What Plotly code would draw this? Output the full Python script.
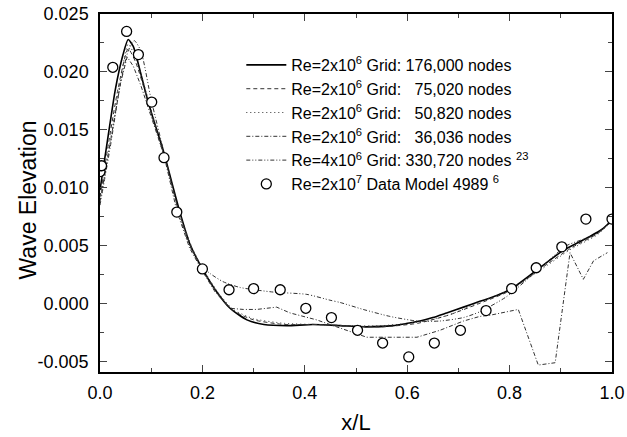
import plotly.graph_objects as go

# measured data (Re=2x10^7, model 4989)
exp_x = [0.0, 0.003, 0.025, 0.052, 0.075, 0.101, 0.125, 0.15, 0.2, 0.252, 0.30, 0.352, 0.402,
         0.452, 0.503, 0.552, 0.603, 0.653, 0.704, 0.754, 0.804, 0.852, 0.902, 0.949, 1.0]
exp_y = [0.0114, 0.0119, 0.0204, 0.0235, 0.0215, 0.0174, 0.0126, 0.0079, 0.0030, 0.0012, 0.0013,
         0.0012, -0.0004, -0.0012, -0.0023, -0.0034, -0.0046, -0.0034, -0.0023, -0.0006, 0.0013,
         0.0031, 0.0049, 0.0073, 0.0073]

# grid 176,000 nodes
g176_x = [0, 0.016, 0.03, 0.045, 0.055, 0.065, 0.08, 0.091, 0.105, 0.123, 0.14, 0.156, 0.176, 0.2,
          0.225, 0.254, 0.287, 0.32, 0.365, 0.416, 0.469, 0.514, 0.572, 0.6, 0.625, 0.65, 0.677,
          0.71, 0.742, 0.775, 0.804, 0.853, 0.905, 0.957, 0.98, 1.0]
g176_y = [0.0098, 0.0145, 0.0185, 0.0215, 0.0228, 0.0222, 0.0198, 0.0179, 0.0158, 0.0133, 0.0105,
          0.0079, 0.0051, 0.0030, 0.0012, -0.0004, -0.0014, -0.0018, -0.0019, -0.0018, -0.0019,
          -0.0020, -0.0019, -0.0017, -0.0015, -0.0012, -0.0008, -0.0003, 0.0002, 0.0007, 0.0013,
          0.0029, 0.0046, 0.0058, 0.0064, 0.0072]

# grid 75,020 nodes
g75_x = [0, 0.018, 0.035, 0.055, 0.07, 0.09, 0.11, 0.13, 0.155, 0.18, 0.2, 0.23, 0.26, 0.3,
         0.36, 0.42, 0.48, 0.55, 0.62, 0.68, 0.74, 0.8, 0.86, 0.92, 0.97, 1.0]
g75_y = [0.0092, 0.0142, 0.0185, 0.0220, 0.0208, 0.0180, 0.0150, 0.0120, 0.0078, 0.0047, 0.0030,
         0.0009, -0.0006, -0.0014, -0.0018, -0.0018, -0.0019, -0.0020, -0.0017, -0.0010, 0.0000,
         0.0011, 0.0030, 0.0048, 0.0060, 0.0071]

# grid 50,820 nodes
g50_x = [0, 0.02, 0.038, 0.055, 0.07, 0.09, 0.11, 0.13, 0.155, 0.18, 0.2, 0.23, 0.26, 0.3,
         0.36, 0.42, 0.48, 0.55, 0.62, 0.68, 0.74, 0.8, 0.86, 0.92, 0.97, 1.0]
g50_y = [0.0090, 0.0140, 0.0188, 0.0224, 0.0212, 0.0183, 0.0152, 0.0121, 0.0079, 0.0048, 0.0031,
         0.0010, -0.0005, -0.0013, -0.0017, -0.0018, -0.0019, -0.0019, -0.0016, -0.0010, 0.0001,
         0.0012, 0.0029, 0.0047, 0.0059, 0.0071]

# grid 36,036 nodes
g36_x = [0, 0.02, 0.04, 0.053, 0.065, 0.08, 0.1, 0.125, 0.15, 0.175, 0.2, 0.225, 0.254, 0.28,
         0.306, 0.345, 0.371, 0.423, 0.462, 0.521, 0.619, 0.664, 0.71, 0.742, 0.762, 0.817,
         0.856, 0.889, 0.918, 0.944, 0.964, 0.991]
g36_y = [0.0088, 0.0140, 0.0190, 0.0213, 0.0205, 0.0188, 0.0162, 0.0128, 0.0080, 0.0048, 0.0028,
         0.0010, -0.0004, -0.0005, -0.0005, -0.0003, -0.0008, -0.0014, -0.0020, -0.0029, -0.0029,
         -0.0023, -0.0015, -0.0011, -0.0010, -0.0005, -0.0053, -0.0051, 0.0044, 0.0021, 0.0037,
         0.0044]

# Re=4x10^6 grid 330,720 nodes
g330_x = [0, 0.02, 0.04, 0.055, 0.067, 0.08, 0.1, 0.127, 0.153, 0.175, 0.2, 0.215, 0.24, 0.273,
          0.338, 0.404, 0.449, 0.469, 0.514, 0.566, 0.619, 0.664, 0.71, 0.742, 0.794, 0.853,
          0.911, 0.97, 1.0]
g330_y = [0.0085, 0.0135, 0.0190, 0.0218, 0.0227, 0.0218, 0.0176, 0.0127, 0.0080, 0.0050, 0.0032,
          0.0026, 0.0019, 0.0014, 0.0010, 0.0008, 0.0003, 0.0001, -0.0005, -0.0011, -0.0015,
          -0.0015, -0.0012, -0.0007, 0.0006, 0.0028, 0.0050, 0.0060, 0.0073]

x_ticks = [0.0, 0.2, 0.4, 0.6, 0.8, 1.0]
x_ticktext = ["0.0", "0.2", "0.4", "0.6", "0.8", "1.0"]
y_ticks = [-0.005, 0.0, 0.005, 0.010, 0.015, 0.020, 0.025]
y_ticktext = ["-0.005", "0.000", "0.005", "0.010", "0.015", "0.020", "0.025"]

sp = "\u00a0"
names = [
    "Re=2x10<sup>6</sup> Grid: 176,000 nodes",
    "Re=2x10<sup>6</sup> Grid:" + sp * 3 + "75,020 nodes",
    "Re=2x10<sup>6</sup> Grid:" + sp * 3 + "50,820 nodes",
    "Re=2x10<sup>6</sup> Grid:" + sp * 3 + "36,036 nodes",
    "Re=4x10<sup>6</sup> Grid: 330,720 nodes <sup>23</sup>",
    "Re=2x10<sup>7</sup> Data Model 4989 <sup>6</sup>",
]

fig = go.Figure()
fig.add_trace(go.Scatter(x=g176_x, y=g176_y, mode="lines", name=names[0],
                         line=dict(color="black", width=1.6, shape="spline", smoothing=0.6)))
fig.add_trace(go.Scatter(x=g75_x, y=g75_y, mode="lines", name=names[1],
                         line=dict(color="#333", width=1, dash="4px,3px", shape="spline", smoothing=0.6)))
fig.add_trace(go.Scatter(x=g50_x, y=g50_y, mode="lines", name=names[2],
                         line=dict(color="#333", width=1, dash="1px,3px", shape="spline", smoothing=0.6)))
fig.add_trace(go.Scatter(x=g36_x, y=g36_y, mode="lines", name=names[3],
                         line=dict(color="#333", width=1, dash="4px,2px,1px,2px")))
fig.add_trace(go.Scatter(x=g330_x, y=g330_y, mode="lines", name=names[4],
                         line=dict(color="#333", width=1, dash="4px,2px,1px,2px,1px,2px",
                                   shape="spline", smoothing=0.6)))
fig.add_trace(go.Scatter(x=exp_x, y=exp_y, mode="markers", name=names[5],
                         marker=dict(symbol="circle", size=10, color="white",
                                     line=dict(color="black", width=1.3))))

font = "Liberation Sans, Arial, sans-serif"
fig.update_layout(
    width=627, height=437,
    margin=dict(l=100, r=15, t=14, b=65),
    plot_bgcolor="white", paper_bgcolor="white",
    font=dict(family=font, color="black", size=18),
    legend=dict(x=0.276, y=0.905, xanchor="left", yanchor="top", bgcolor="rgba(0,0,0,0)",
                font=dict(size=16), itemwidth=40, tracegroupgap=0),
    showlegend=True,
)
fig.add_annotation(text="Wave Elevation", xref="paper", yref="paper", x=-0.14, y=0.48,
                   textangle=-90, showarrow=False, font=dict(size=23),
                   xanchor="center", yanchor="middle")
fig.update_xaxes(range=[0, 1], tickvals=x_ticks, ticktext=x_ticktext, automargin=False,
                 showline=True, linecolor="black", linewidth=1.5, mirror="allticks",
                 ticks="inside", ticklen=7, tickwidth=1.2, showgrid=False, zeroline=False,
                 minor=dict(dtick=0.1, ticks="inside", ticklen=4, tickwidth=1.2),
                 title=dict(text="x/L", font=dict(size=22), standoff=12),
                 ticklabelstandoff=4, tickfont=dict(size=18))
fig.update_yaxes(range=[-0.0059, 0.025], tickvals=y_ticks, ticktext=y_ticktext, automargin=False,
                 showline=True, linecolor="black", linewidth=1.5, mirror="allticks",
                 ticks="inside", ticklen=7, tickwidth=1.2, showgrid=False, zeroline=False,
                 minor=dict(dtick=0.0025, tick0=0, ticks="inside", ticklen=4, tickwidth=1.2),
                 ticklabelstandoff=6, tickfont=dict(size=18))

# the page's default body margin would push the figure 8px right and down
fig.write_html("out.html", config={"displayModeBar": False},
               post_script="document.body.style.margin='0px';")
